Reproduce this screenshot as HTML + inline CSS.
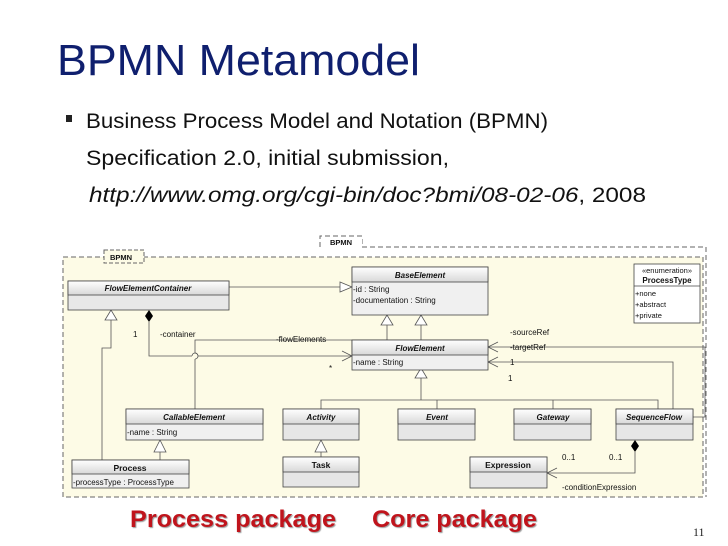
<!DOCTYPE html>
<html><head><meta charset="utf-8"><style>
html,body{margin:0;padding:0;background:#fff;width:728px;height:546px;overflow:hidden}
svg{display:block}
.c{font-family:"Liberation Sans",sans-serif;font-size:8px;fill:#111}
.h{font-family:"Liberation Sans",sans-serif;font-size:8px;font-weight:bold;font-style:italic;fill:#111}
.hb{font-family:"Liberation Sans",sans-serif;font-size:8.5px;font-weight:bold;fill:#111}
</style></head><body>
<svg width="728" height="546" viewBox="0 0 728 546" xmlns="http://www.w3.org/2000/svg">
<defs>
<linearGradient id="g" x1="0" y1="0" x2="0" y2="1"><stop offset="0" stop-color="#ffffff"/><stop offset="1" stop-color="#d8d8d8"/></linearGradient>
</defs>
<text x="57" y="75" font-family="Liberation Sans,sans-serif" font-size="44" fill="#0f1f6e" textLength="363" lengthAdjust="spacingAndGlyphs">BPMN Metamodel</text>
<rect x="66" y="115" width="6" height="7" fill="#222"/>
<g font-family="Liberation Sans,sans-serif" font-size="21" fill="#111">
<text x="86" y="128" textLength="462" lengthAdjust="spacingAndGlyphs">Business Process Model and Notation (BPMN)</text>
<text x="86" y="165" textLength="363" lengthAdjust="spacingAndGlyphs">Specification 2.0, initial submission,</text>
<text x="89" y="202" textLength="557" lengthAdjust="spacingAndGlyphs"><tspan font-style="italic">http://www.omg.org/cgi-bin/doc?bmi/08-02-06</tspan>, 2008</text>
</g>
<!-- outer frame -->
<path d="M320 247 L320 236 L362 236 L362 247 L706 247 L706 497" fill="none" stroke="#666" stroke-dasharray="5,3"/>
<rect x="321" y="237" width="41" height="10" fill="#fff"/>
<text x="330" y="245" class="hb" style="font-size:7.5px">BPMN</text>
<!-- inner frame -->
<rect x="63" y="257" width="640" height="240" fill="#fdfbe6" stroke="#666" stroke-dasharray="5,3"/>
<rect x="104" y="250" width="40" height="13" fill="#fdfbe6" stroke="#666" stroke-dasharray="4,2"/>
<text x="110" y="260" class="hb" style="font-size:7.5px">BPMN</text>

<g fill="none" stroke="#555" stroke-width="0.8">
<!-- FEC -> BaseElement -->
<line x1="229" y1="287" x2="340" y2="287"/>
<!-- BaseElement gens -->
<polyline points="387,325 387,340 195,340 195,353"/>
<path d="M195 353 a3 3 0 0 1 0 6"/>
<polyline points="195,359 195,409"/>
<line x1="421" y1="325" x2="421" y2="340"/>
<!-- composition container -->
<polyline points="149,322 149,356 192,356"/>
<path d="M192 356 a3 3 0 0 1 6 0"/>
<polyline points="198,356 352,356"/>
<polyline points="342,351 352,356 342,361"/>
<!-- Process gen -->
<polyline points="111,320 111,348 102,348 102,460"/>
<line x1="160" y1="452" x2="160" y2="460"/>
<!-- FlowElement gen -->
<polyline points="421,378 421,400"/>
<polyline points="321,409 321,400 658,400 658,409"/>
<line x1="437" y1="400" x2="437" y2="409"/>
<line x1="553" y1="400" x2="553" y2="409"/>
<line x1="321" y1="452" x2="321" y2="457"/>
<!-- targetRef / sourceRef -->
<polyline points="693,417 705,417 705,347 488,347"/>
<polyline points="498,342 488,347 498,352"/>
<polyline points="673,409 673,362 488,362"/>
<polyline points="498,357 488,362 498,367"/>
<!-- condition expression -->
<polyline points="635,452 635,473 547,473"/>
<polyline points="557,468 547,473 557,478"/>
</g>
<g fill="#fff" stroke="#555" stroke-width="0.8">
<polygon points="340,282 352,287 340,292"/>
<polygon points="387,315 381,325 393,325"/>
<polygon points="421,315 415,325 427,325"/>
<polygon points="111,310 105,320 117,320"/>
<polygon points="160,440 154,452 166,452"/>
<polygon points="421,368 415,378 427,378"/>
<polygon points="321,440 315,452 327,452"/>
</g>
<polygon points="149,310 153,316 149,322 145,316" fill="#000"/>
<polygon points="635,440 639,446 635,452 631,446" fill="#000"/>

<!-- classes -->
<g stroke="#444" stroke-width="0.8">
<rect x="68" y="281" width="161" height="29" fill="#e8e8e8"/><rect x="68" y="281" width="161" height="14" fill="url(#g)"/>
<rect x="352" y="267" width="136" height="48" fill="#f0f0f0"/><rect x="352" y="267" width="136" height="15" fill="url(#g)"/>
<rect x="352" y="340" width="136" height="30" fill="#f0f0f0"/><rect x="352" y="340" width="136" height="15" fill="url(#g)"/>
<rect x="634" y="264" width="66" height="59" fill="#fff"/><line x1="634" y1="286" x2="700" y2="286"/>
<rect x="126" y="409" width="137" height="31" fill="#f0f0f0"/><rect x="126" y="409" width="137" height="15" fill="url(#g)"/>
<rect x="72" y="460" width="117" height="28" fill="#f0f0f0"/><rect x="72" y="460" width="117" height="14" fill="url(#g)"/>
<rect x="283" y="409" width="76" height="31" fill="#e6e6e6"/><rect x="283" y="409" width="76" height="15" fill="url(#g)"/>
<rect x="283" y="457" width="76" height="30" fill="#e6e6e6"/><rect x="283" y="457" width="76" height="15" fill="url(#g)"/>
<rect x="398" y="409" width="77" height="31" fill="#e6e6e6"/><rect x="398" y="409" width="77" height="15" fill="url(#g)"/>
<rect x="514" y="409" width="77" height="31" fill="#e6e6e6"/><rect x="514" y="409" width="77" height="15" fill="url(#g)"/>
<rect x="616" y="409" width="77" height="31" fill="#e6e6e6"/><rect x="616" y="409" width="77" height="15" fill="url(#g)"/>
<rect x="470" y="457" width="77" height="31" fill="#e6e6e6"/><rect x="470" y="457" width="77" height="15" fill="url(#g)"/>
</g>
<g text-anchor="middle">
<text x="148" y="291" class="h">FlowElementContainer</text>
<text x="420" y="278" class="h">BaseElement</text>
<text x="420" y="351" class="h">FlowElement</text>
<text x="194" y="420" class="h">CallableElement</text>
<text x="130" y="471" class="hb">Process</text>
<text x="321" y="420" class="h">Activity</text>
<text x="321" y="468" class="hb">Task</text>
<text x="437" y="420" class="h">Event</text>
<text x="553" y="420" class="h">Gateway</text>
<text x="654" y="420" class="h">SequenceFlow</text>
<text x="508" y="468" class="hb">Expression</text>
<text x="667" y="273" class="c" style="font-size:7.5px">«enumeration»</text>
<text x="667" y="283" class="hb" style="font-size:8px">ProcessType</text>
</g>
<g class="c">
<text x="353" y="292" class="c">-id : String</text>
<text x="353" y="303" class="c">-documentation : String</text>
<text x="353" y="365" class="c">-name : String</text>
<text x="127" y="435" class="c">-name : String</text>
<text x="73" y="485" class="c">-processType : ProcessType</text>
<text x="635" y="296" class="c" style="font-size:7.5px">+none</text>
<text x="635" y="307" class="c" style="font-size:7.5px">+abstract</text>
<text x="635" y="318" class="c" style="font-size:7.5px">+private</text>
<text x="133" y="337" class="c">1</text>
<text x="160" y="337" class="c">-container</text>
<text x="276" y="342" class="c">-flowElements</text>
<text x="329" y="371" class="c">*</text>
<text x="510" y="335" class="c">-sourceRef</text>
<text x="510" y="350" class="c">-targetRef</text>
<text x="510" y="365" class="c">1</text>
<text x="508" y="381" class="c">1</text>
<text x="562" y="460" class="c">0..1</text>
<text x="609" y="460" class="c">0..1</text>
<text x="562" y="490" class="c">-conditionExpression</text>
</g>
<g font-family="Liberation Sans,sans-serif" font-weight="bold" font-size="24" fill="#c0141c" style="text-shadow:1px 1px 1px #999">
<text x="130" y="527" textLength="206" lengthAdjust="spacingAndGlyphs">Process package</text>
<text x="372" y="527" textLength="165" lengthAdjust="spacingAndGlyphs">Core package</text>
</g>
<text x="693" y="536" font-family="Liberation Serif,serif" font-size="12" fill="#222">11</text>
</svg>
</body></html>
